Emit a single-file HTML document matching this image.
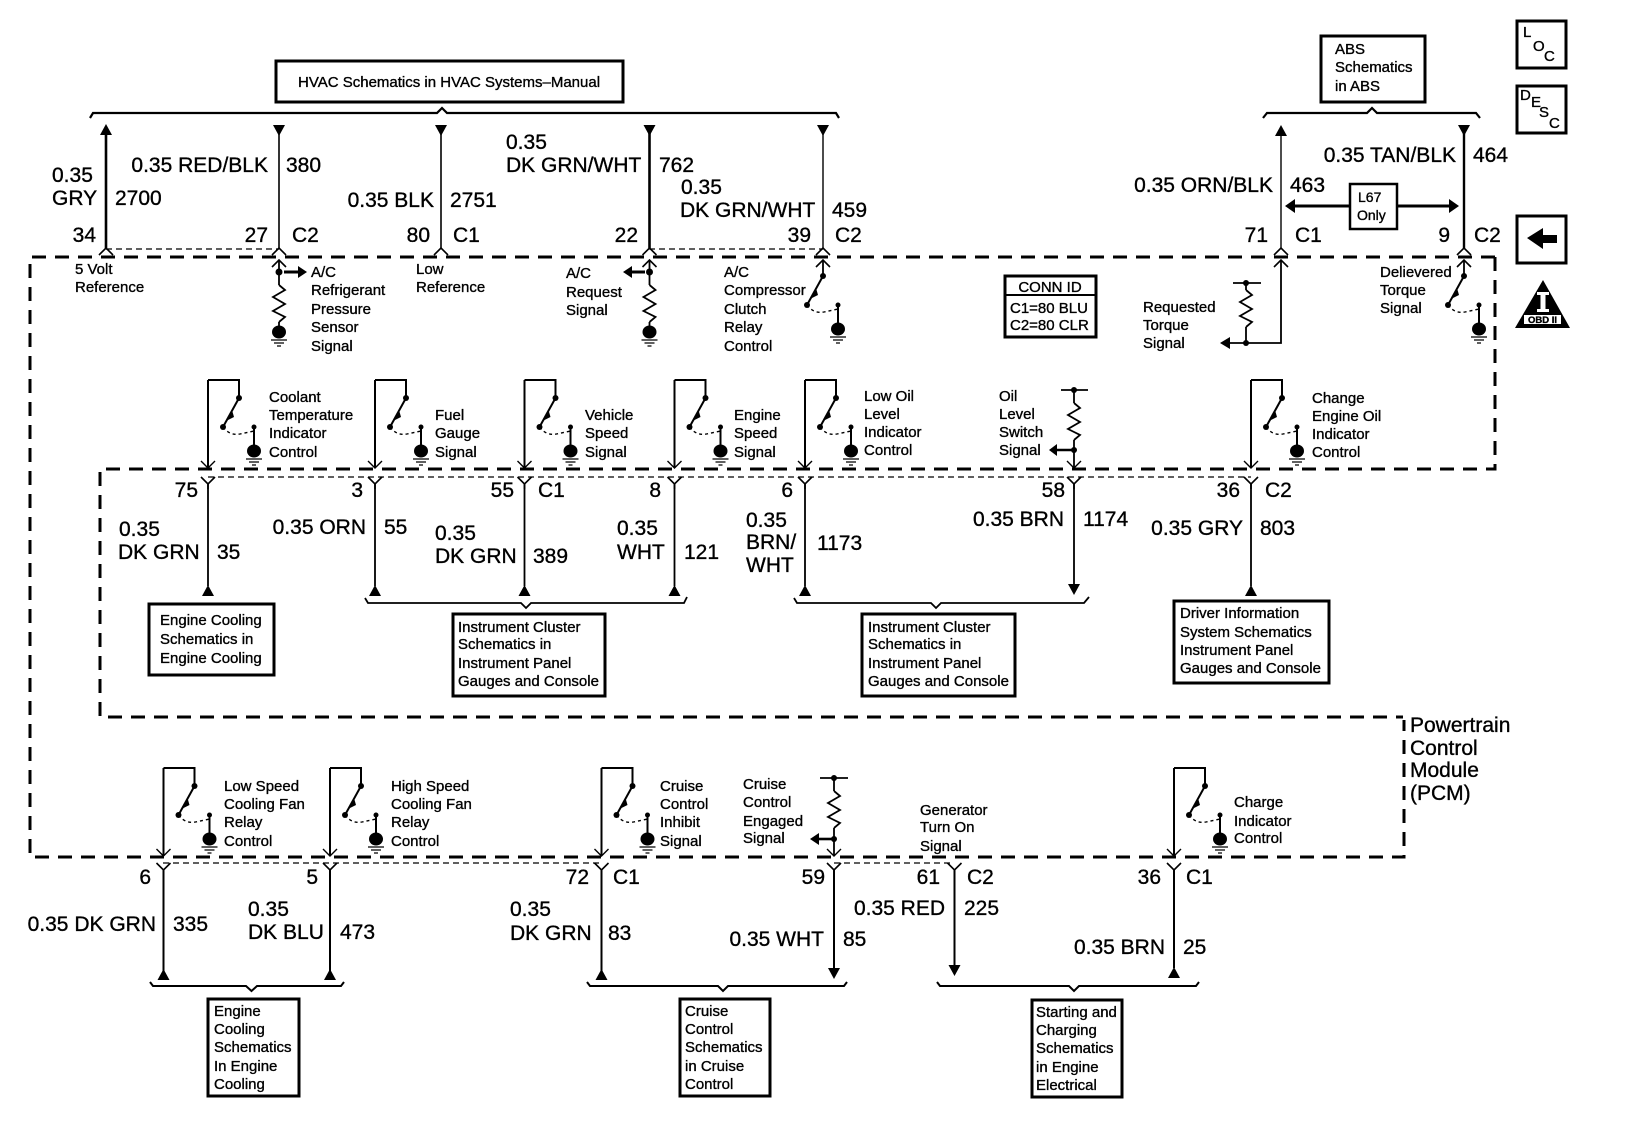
<!DOCTYPE html>
<html><head><meta charset="utf-8"><title>PCM schematic</title>
<style>
html,body{margin:0;padding:0;background:#fff}
svg{display:block}
text{font-family:"Liberation Sans",sans-serif;fill:#000;stroke:#000;stroke-width:.35}
.w{font-size:21px}
.s{font-size:15px}
.e{text-anchor:end}
.m{text-anchor:middle}
</style></head><body>
<svg xmlns="http://www.w3.org/2000/svg" width="1632" height="1124" viewBox="0 0 1632 1124">
<defs>
<g id="gnd"><ellipse cx="0" cy="0" rx="7" ry="6.5" fill="#000"/><path d="M-8 8H8M-5 11H5M-2 14H2" stroke="#000" stroke-width="1.3" fill="none"/></g>
<path id="res" d="M0 0L6 5L-6 12L6 19L-6 26L6 32L0 37" fill="none" stroke="#000" stroke-width="1.8"/>
<g id="arm"><circle r="3" fill="#000"/><path d="M0 0L-16 29" stroke="#000" stroke-width="2" fill="none"/><path d="M-7 12L-13 23L-5 19Z" fill="#000"/><circle cx="-16" cy="29" r="3" fill="#000"/><path d="M-16 29Q-9 38 1 36L15 33" stroke="#000" stroke-width="1.4" stroke-dasharray="3 3" fill="none"/><circle cx="15" cy="29" r="2.5" fill="#000"/><path d="M15 29V53" stroke="#000" stroke-width="2" fill="none"/><use href="#gnd" x="15" y="53"/></g>
<g id="sw"><path d="M0 0V88M0 0H31V18" stroke="#000" stroke-width="2" fill="none"/><path d="M-7 81L0 88L7 81" stroke="#000" stroke-width="1.4" fill="none"/><use href="#arm" x="31" y="18"/></g>
<path id="y" d="M-7 0L0 7L7 0M0 7V12" stroke="#000" stroke-width="1.6" fill="none"/>
<path id="c" d="M-7 6L0 -1L7 6" stroke="#000" stroke-width="1.6" fill="none"/>
<path id="up" d="M-6 0H6L0 -11Z" fill="#000" transform="translate(0,0)"/>
<path id="dn" d="M-6 -11H6L0 0Z" fill="#000"/>
</defs>

<!-- module dashed boundaries -->
<g fill="none" stroke="#000" stroke-width="3" stroke-dasharray="14 9">
<path d="M1495 257H30V857H1404V720"/>
<path d="M1495 257V469H100V717H1403"/>
</g>
<g fill="none" stroke="#000" stroke-width="1.3" stroke-dasharray="6 4">
<path d="M106 249H279M649 249H823"/>
<path d="M208 477H1251"/>
<path d="M163 863H601M834 863H954"/>
</g>

<!-- top wires -->
<g fill="none" stroke="#000">
<path d="M106 130V248" stroke-width="2.6"/>
<path d="M279 130V248" stroke-width="1.6"/>
<path d="M441 130V248" stroke-width="1.6"/>
<path d="M649.5 130V248" stroke-width="2.6"/>
<path d="M823 130V248" stroke-width="1.4"/>
<path d="M1281 130V248" stroke-width="1.4"/>
<path d="M1464 130V248" stroke-width="2.4"/>
<path d="M90 118L93 113H437L442 108L447 113H836L839 118" stroke-width="2.2"/>
<path d="M1263 118L1267 113H1367L1372 108L1377 113H1476L1480 118" stroke-width="2.2"/>
</g>
<use href="#up" x="106" y="135"/>
<use href="#dn" x="279" y="136"/><use href="#dn" x="441" y="136"/><use href="#dn" x="649.5" y="136"/><use href="#dn" x="823" y="136"/>
<use href="#up" x="1281" y="136"/><use href="#dn" x="1464" y="136"/>
<use href="#c" x="106" y="249"/><use href="#c" x="279" y="249"/><use href="#c" x="441" y="249"/><use href="#c" x="649.5" y="249"/><use href="#c" x="823" y="249"/><use href="#c" x="1281" y="249"/><use href="#c" x="1464" y="249"/>

<!-- top internal nodes -->
<use href="#c" x="279" y="261"/><use href="#c" x="649.5" y="261"/><use href="#c" x="823" y="261"/><use href="#c" x="1281" y="261"/><use href="#c" x="1464" y="261"/>
<g fill="none" stroke="#000" stroke-width="1.8">
<path d="M279 261V285M279 322V326M649.5 261V285M649.5 322V326"/>
<path d="M284 272H298" stroke-width="3"/><path d="M645 272H632" stroke-width="3"/>
<path d="M823 261V276M1464 261V276"/>
<path d="M1281 261V343H1228"/>
<path d="M1233 283H1261M1246 283V290M1246 327V343"/>
</g>
<circle cx="279" cy="272" r="3.5" fill="#000"/><circle cx="649.5" cy="272" r="3.5" fill="#000"/>
<path d="M298 266L307 272L298 278Z" fill="#000"/><path d="M632 266L623 272L632 278Z" fill="#000"/>
<use href="#res" x="279" y="285"/><use href="#res" x="649.5" y="285"/><use href="#res" x="1246" y="290"/>
<use href="#gnd" x="279" y="332"/><use href="#gnd" x="649.5" y="332"/>
<use href="#arm" x="823" y="276"/><use href="#arm" x="1464" y="276"/>
<circle cx="1246" cy="283" r="3" fill="#000"/><circle cx="1246" cy="343" r="3" fill="#000"/>
<path d="M1230 337L1220 343L1230 349Z" fill="#000"/>

<!-- mid switches -->
<use href="#sw" x="208" y="380"/><use href="#sw" x="375" y="380"/><use href="#sw" x="524.5" y="380"/><use href="#sw" x="674.5" y="380"/><use href="#sw" x="805" y="380"/><use href="#sw" x="1251" y="380"/>
<g fill="none" stroke="#000" stroke-width="1.8">
<path d="M1061 390H1088M1074 390V403M1074 440V468"/>
<path d="M1067 461L1074 468L1081 461" stroke-width="1.4"/>
<path d="M1074 450H1056" stroke-width="2.6"/>
</g>
<circle cx="1074" cy="390" r="3" fill="#000"/><circle cx="1074" cy="450" r="3" fill="#000"/>
<use href="#res" x="1074" y="403"/>
<path d="M1057 444L1049 450L1057 456Z" fill="#000"/>

<!-- mid wires -->
<use href="#y" x="208" y="477"/><use href="#y" x="375" y="477"/><use href="#y" x="524.5" y="477"/><use href="#y" x="674.5" y="477"/><use href="#y" x="805" y="477"/><use href="#y" x="1074" y="477"/><use href="#y" x="1251" y="477"/>
<g fill="none" stroke="#000" stroke-width="1.8">
<path d="M208 484V586M375 484V586M524.5 484V586M674.5 484V586M805 484V586M1074 484V585M1251 484V586"/>
<path d="M365 598L368 603H521L526 608L531 603H684L687 597"/>
<path d="M794 598L797 603H931L936 608L941 603H1084L1089 597"/>
</g>
<use href="#up" x="208" y="596"/><use href="#up" x="375" y="596"/><use href="#up" x="524.5" y="596"/><use href="#up" x="674.5" y="596"/><use href="#up" x="805" y="596"/><use href="#up" x="1251" y="596"/>
<use href="#dn" x="1074" y="595"/>

<!-- bottom switches -->
<use href="#sw" x="163.5" y="768"/><use href="#sw" x="330" y="768"/><use href="#sw" x="601.5" y="768"/><use href="#sw" x="1174" y="768"/>
<g fill="none" stroke="#000" stroke-width="1.8">
<path d="M820 778H848M834 778V791M834 828V856"/>
<path d="M827 849L834 856L841 849" stroke-width="1.4"/>
<path d="M834 839H818" stroke-width="2.6"/>
</g>
<circle cx="834" cy="778" r="3" fill="#000"/><circle cx="834" cy="839" r="3" fill="#000"/>
<use href="#res" x="834" y="791"/>
<path d="M819 833L810 839L819 845Z" fill="#000"/>

<!-- bottom wires -->
<use href="#y" x="163.5" y="863"/><use href="#y" x="330" y="863"/><use href="#y" x="601.5" y="863"/><use href="#y" x="834" y="863"/><use href="#y" x="954.5" y="863"/><use href="#y" x="1174" y="863"/>
<g fill="none" stroke="#000" stroke-width="2">
<path d="M163.5 870V971M330 870V971M601.5 870V971M834 870V968M954.5 870V965M1174 870V968"/>
<path d="M150 982L153 986H246L251.5 991L257 986H341L344 982"/>
<path d="M587 982L590 986H718L723 991L728 986H844L847 982"/>
<path d="M937 982L940 986H1069L1074 991L1079 986H1196L1199 982"/>
</g>
<use href="#up" x="163.5" y="980"/><use href="#up" x="330" y="980"/><use href="#up" x="601.5" y="980"/><use href="#up" x="1174" y="978"/>
<use href="#dn" x="834" y="979"/><use href="#dn" x="954.5" y="976"/>

<!-- boxes -->
<g fill="#fff" stroke="#000" stroke-width="3">
<rect x="276" y="61" width="347" height="41"/>
<rect x="1321" y="36" width="104" height="66"/>
<rect x="1517" y="21" width="49" height="47"/>
<rect x="1517" y="86" width="49" height="47"/>
<rect x="1517" y="216" width="49" height="47"/>
<rect x="1005" y="276" width="91" height="61"/>
<rect x="149" y="604" width="125" height="71"/>
<rect x="453" y="614" width="152" height="82"/>
<rect x="862" y="614" width="153" height="82"/>
<rect x="1174" y="601" width="155" height="82"/>
<rect x="208" y="999" width="91" height="97"/>
<rect x="680" y="999" width="90" height="97"/>
<rect x="1032" y="1000" width="90" height="97"/>
<rect x="1350" y="184" width="47" height="45" stroke-width="2.5"/>
</g>
<path d="M1005 295H1096" stroke="#000" stroke-width="2"/>
<path d="M1293 206H1349M1397 206H1451" stroke="#000" stroke-width="3"/>
<path d="M1295 199L1285 206L1295 213ZM1449 199L1459 206L1449 213Z" fill="#000"/>
<path d="M1527 238L1543 228V235H1557V243H1543V249Z" fill="#000"/>
<path d="M1543 280L1570 328H1515Z" fill="#000"/>
<path d="M1537 292H1549V295H1545.5V309H1549V312H1537V309H1540.5V295H1537Z" fill="#fff"/>
<rect x="1524" y="315" width="37" height="9" fill="#fff"/>

<!-- wire labels -->
<g class="w">
<text x="52" y="182">0.35</text><text x="52" y="205">GRY</text><text x="115" y="205">2700</text><text x="96" y="242" class="e">34</text>
<text x="268" y="172" class="e">0.35 RED/BLK</text><text x="286" y="172">380</text><text x="268" y="242" class="e">27</text><text x="292" y="242">C2</text>
<text x="434" y="207" class="e">0.35 BLK</text><text x="450" y="207">2751</text><text x="430" y="242" class="e">80</text><text x="453" y="242">C1</text>
<text x="506" y="149">0.35</text><text x="506" y="172">DK GRN/WHT</text><text x="659" y="172">762</text><text x="638" y="242" class="e">22</text>
<text x="681" y="194">0.35</text><text x="680" y="217">DK GRN/WHT</text><text x="832" y="217">459</text><text x="811" y="242" class="e">39</text><text x="835" y="242">C2</text>
<text x="1273" y="192" class="e">0.35 ORN/BLK</text><text x="1290" y="192">463</text><text x="1268" y="242" class="e">71</text><text x="1295" y="242">C1</text>
<text x="1456" y="162" class="e">0.35 TAN/BLK</text><text x="1473" y="162">464</text><text x="1450" y="242" class="e">9</text><text x="1474" y="242">C2</text>

<text x="198" y="497" class="e">75</text><text x="119" y="536">0.35</text><text x="118" y="559">DK GRN</text><text x="217" y="559">35</text>
<text x="363" y="497" class="e">3</text><text x="366" y="534" class="e">0.35 ORN</text><text x="384" y="534">55</text>
<text x="514" y="497" class="e">55</text><text x="538" y="497">C1</text><text x="435" y="540">0.35</text><text x="435" y="563">DK GRN</text><text x="533" y="563">389</text>
<text x="661" y="497" class="e">8</text><text x="617" y="535">0.35</text><text x="617" y="559">WHT</text><text x="684" y="559">121</text>
<text x="793" y="497" class="e">6</text><text x="746" y="527">0.35</text><text x="746" y="549">BRN/</text><text x="746" y="572">WHT</text><text x="817" y="550">1173</text>
<text x="1065" y="497" class="e">58</text><text x="1064" y="526" class="e">0.35 BRN</text><text x="1083" y="526">1174</text>
<text x="1240" y="497" class="e">36</text><text x="1265" y="497">C2</text><text x="1243" y="535" class="e">0.35 GRY</text><text x="1260" y="535">803</text>

<text x="151" y="884" class="e">6</text><text x="156" y="931" class="e">0.35 DK GRN</text><text x="173" y="931">335</text>
<text x="318" y="884" class="e">5</text><text x="248" y="916">0.35</text><text x="248" y="939">DK BLU</text><text x="340" y="939">473</text>
<text x="589" y="884" class="e">72</text><text x="613" y="884">C1</text><text x="510" y="916">0.35</text><text x="510" y="940">DK GRN</text><text x="608" y="940">83</text>
<text x="825" y="884" class="e">59</text><text x="824" y="946" class="e">0.35 WHT</text><text x="843" y="946">85</text>
<text x="940" y="884" class="e">61</text><text x="967" y="884">C2</text><text x="945" y="915" class="e">0.35 RED</text><text x="964" y="915">225</text>
<text x="1161" y="884" class="e">36</text><text x="1186" y="884">C1</text><text x="1165" y="954" class="e">0.35 BRN</text><text x="1183" y="954">25</text>

<text x="1410" y="732">Powertrain</text><text x="1410" y="755">Control</text><text x="1410" y="777">Module</text><text x="1410" y="800">(PCM)</text>
</g>

<!-- small labels -->
<g class="s">
<text x="298" y="87">HVAC Schematics in HVAC Systems–Manual</text>
<text x="1335" y="54">ABS</text><text x="1335" y="72">Schematics</text><text x="1335" y="91">in ABS</text>
<text x="1523" y="37">L</text><text x="1533" y="51">O</text><text x="1544" y="61">C</text>
<text x="1520" y="100">D</text><text x="1531" y="107">E</text><text x="1539" y="117">S</text><text x="1549" y="128">C</text>
<text x="1358" y="202" style="font-size:14px">L67</text><text x="1357" y="220" style="font-size:14px">Only</text>
<text x="1050" y="292" class="m">CONN ID</text><text x="1010" y="313">C1=80 BLU</text><text x="1010" y="330">C2=80 CLR</text>

<text x="75" y="274">5 Volt</text><text x="75" y="292">Reference</text>
<text x="311" y="277">A/C</text><text x="311" y="295">Refrigerant</text><text x="311" y="314">Pressure</text><text x="311" y="332">Sensor</text><text x="311" y="351">Signal</text>
<text x="416" y="274">Low</text><text x="416" y="292">Reference</text>
<text x="566" y="278">A/C</text><text x="566" y="297">Request</text><text x="566" y="315">Signal</text>
<text x="724" y="277">A/C</text><text x="724" y="295">Compressor</text><text x="724" y="314">Clutch</text><text x="724" y="332">Relay</text><text x="724" y="351">Control</text>
<text x="1143" y="312">Requested</text><text x="1143" y="330">Torque</text><text x="1143" y="348">Signal</text>
<text x="1380" y="277">Delievered</text><text x="1380" y="295">Torque</text><text x="1380" y="313">Signal</text>

<text x="269" y="402">Coolant</text><text x="269" y="420">Temperature</text><text x="269" y="438">Indicator</text><text x="269" y="457">Control</text>
<text x="435" y="420">Fuel</text><text x="435" y="438">Gauge</text><text x="435" y="457">Signal</text>
<text x="585" y="420">Vehicle</text><text x="585" y="438">Speed</text><text x="585" y="457">Signal</text>
<text x="734" y="420">Engine</text><text x="734" y="438">Speed</text><text x="734" y="457">Signal</text>
<text x="864" y="401">Low Oil</text><text x="864" y="419">Level</text><text x="864" y="437">Indicator</text><text x="864" y="455">Control</text>
<text x="999" y="401">Oil</text><text x="999" y="419">Level</text><text x="999" y="437">Switch</text><text x="999" y="455">Signal</text>
<text x="1312" y="403">Change</text><text x="1312" y="421">Engine Oil</text><text x="1312" y="439">Indicator</text><text x="1312" y="457">Control</text>

<text x="160" y="625">Engine Cooling</text><text x="160" y="644">Schematics in</text><text x="160" y="663">Engine Cooling</text>
<text x="458" y="632">Instrument Cluster</text><text x="458" y="649">Schematics in</text><text x="458" y="668">Instrument Panel</text><text x="458" y="686">Gauges and Console</text>
<text x="868" y="632">Instrument Cluster</text><text x="868" y="649">Schematics in</text><text x="868" y="668">Instrument Panel</text><text x="868" y="686">Gauges and Console</text>
<text x="1180" y="618">Driver Information</text><text x="1180" y="637">System Schematics</text><text x="1180" y="655">Instrument Panel</text><text x="1180" y="673">Gauges and Console</text>

<text x="224" y="791">Low Speed</text><text x="224" y="809">Cooling Fan</text><text x="224" y="827">Relay</text><text x="224" y="846">Control</text>
<text x="391" y="791">High Speed</text><text x="391" y="809">Cooling Fan</text><text x="391" y="827">Relay</text><text x="391" y="846">Control</text>
<text x="660" y="791">Cruise</text><text x="660" y="809">Control</text><text x="660" y="827">Inhibit</text><text x="660" y="846">Signal</text>
<text x="743" y="789">Cruise</text><text x="743" y="807">Control</text><text x="743" y="826">Engaged</text><text x="743" y="843">Signal</text>
<text x="920" y="815">Generator</text><text x="920" y="832">Turn On</text><text x="920" y="851">Signal</text>
<text x="1234" y="807">Charge</text><text x="1234" y="826">Indicator</text><text x="1234" y="843">Control</text>

<text x="214" y="1016">Engine</text><text x="214" y="1034">Cooling</text><text x="214" y="1052">Schematics</text><text x="214" y="1071">In Engine</text><text x="214" y="1089">Cooling</text>
<text x="685" y="1016">Cruise</text><text x="685" y="1034">Control</text><text x="685" y="1052">Schematics</text><text x="685" y="1071">in Cruise</text><text x="685" y="1089">Control</text>
<text x="1036" y="1017">Starting and</text><text x="1036" y="1035">Charging</text><text x="1036" y="1053">Schematics</text><text x="1036" y="1072">in Engine</text><text x="1036" y="1090">Electrical</text>
</g>
<text x="1542.5" y="323" class="m" style="font-size:9.5px;font-weight:bold">OBD II</text>
</svg>
</body></html>
